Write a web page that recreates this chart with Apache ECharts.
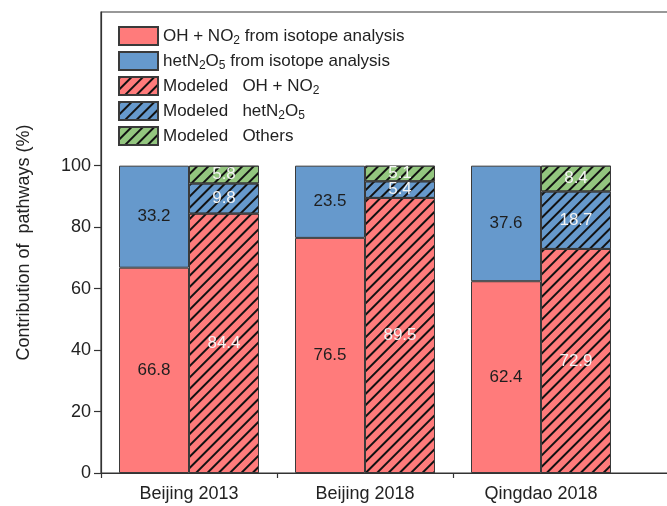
<!DOCTYPE html>
<html>
<head>
<meta charset="utf-8">
<script src="https://cdn.jsdelivr.net/npm/echarts@6/dist/echarts.min.js"></script>
<style>
  html, body { margin: 0; padding: 0; background: #fff; }
  #chart { width: 667px; height: 506px; }
</style>
</head>
<body>
<div id="chart"></div>
<script>
// Sites / years
const categories = ['Beijing 2013', 'Beijing 2018', 'Qingdao 2018'];

// Isotope-derived contributions (%)
const isoOH = [66.8, 76.5, 62.4];
const isoHet = [33.2, 23.5, 37.6];

// Model-derived contributions (%)
const modelOH = [84.4, 89.5, 72.9];
const modelHet = [9.8, 5.4, 18.7];
const modelOthers = [5.8, 5.1, 8.4];

// Y tick labels
const yTicks = [0, 20, 40, 60, 80, 100];

const FONT = '"Liberation Sans", Arial, sans-serif';
const RED = '#ff7b7b';
const BLUE = '#6699cc';
const GREEN = '#93c67f';
const EDGE = '#3a3a3a';

const hatch = {
  symbol: 'rect',
  symbolSize: 1,
  color: '#111',
  dashArrayX: [1, 0],
  dashArrayY: [1.4, 5.6],
  rotation: -Math.PI / 4
};

const legendText = {
  'OH + NO2 from isotope analysis': 'OH + NO{sub|2} from isotope analysis',
  'hetN2O5 from isotope analysis': 'hetN{sub|2}O{sub|5} from isotope analysis',
  'Modeled OH + NO2': 'Modeled   OH + NO{sub|2}',
  'Modeled hetN2O5': 'Modeled   hetN{sub|2}O{sub|5}',
  'Modeled Others': 'Modeled   Others'
};

function barSeries(name, stack, data, color, decal, labelColor) {
  const itemStyle = { color: color, borderColor: EDGE, borderWidth: 1 };
  if (decal) itemStyle.decal = decal;
  return {
    name: name,
    type: 'bar',
    stack: stack,
    data: data,
    barWidth: 70,
    barGap: '0%',
    itemStyle: itemStyle,
    label: {
      show: true,
      position: 'inside',
      color: labelColor,
      fontFamily: FONT,
      fontSize: 17,
      formatter: p => p.value.toFixed(1)
    },
    emphasis: { disabled: true }
  };
}

const chart = echarts.init(document.getElementById('chart'), null, { renderer: 'canvas' });

// The plot frame runs past the right edge of the canvas: a fourth, empty band.
chart.setOption({
  animation: false,
  backgroundColor: '#fff',
  grid: {
    left: 101, top: 12, width: 704, bottom: 33,
    outerBoundsMode: 'none',
    containLabel: false,
    show: true, borderColor: '#333', borderWidth: 1.2, backgroundColor: 'transparent'
  },
  legend: {
    orient: 'vertical',
    left: 118,
    top: 25,
    padding: 0,
    itemWidth: 39,
    itemHeight: 18,
    itemGap: 3,
    icon: 'rect',
    data: Object.keys(legendText),
    formatter: name => legendText[name],
    textStyle: {
      fontFamily: FONT,
      fontSize: 17,
      lineHeight: 22,
      color: '#222',
      rich: {
        sub: { fontFamily: FONT, fontSize: 12, color: '#222', verticalAlign: 'bottom', lineHeight: 22 }
      }
    }
  },
  xAxis: [
    {
      type: 'category',
      data: categories.concat(['']),
      axisLine: { lineStyle: { color: '#333', width: 1.2 } },
      axisTick: { alignWithLabel: true, length: 8, lineStyle: { color: '#333', width: 1.2 } },
      axisLabel: { interval: 0, fontFamily: FONT, fontSize: 18, color: '#222', margin: 12 }
    },
    {
      type: 'value',
      position: 'bottom',
      min: 0,
      max: 4,
      axisLine: { show: false },
      axisTick: { show: true, length: 5, customValues: [0, 1, 2], lineStyle: { color: '#333', width: 1.2 } },
      axisLabel: { show: false },
      splitLine: { show: false }
    }
  ],
  yAxis: {
    type: 'value',
    min: 0,
    max: 150,
    name: 'Contribution of  pathways (%)',
    nameLocation: 'middle',
    nameGap: 68,
    nameTextStyle: { fontFamily: FONT, fontSize: 18, color: '#222' },
    axisLine: { show: true, lineStyle: { color: '#333', width: 1.2 } },
    axisTick: { show: true, length: 7, customValues: yTicks, lineStyle: { color: '#333', width: 1.2 } },
    axisLabel: { fontFamily: FONT, fontSize: 18, color: '#222', margin: 10, customValues: yTicks },
    splitLine: { show: false }
  },
  series: [
    barSeries('OH + NO2 from isotope analysis', 'iso', isoOH, RED, null, '#1e1e1e'),
    barSeries('hetN2O5 from isotope analysis', 'iso', isoHet, BLUE, null, '#1e1e1e'),
    barSeries('Modeled OH + NO2', 'model', modelOH, RED, hatch, '#f4f4f4'),
    barSeries('Modeled hetN2O5', 'model', modelHet, BLUE, hatch, '#f4f4f4'),
    barSeries('Modeled Others', 'model', modelOthers, GREEN, hatch, '#f4f4f4')
  ]
});
</script>
</body>
</html>
